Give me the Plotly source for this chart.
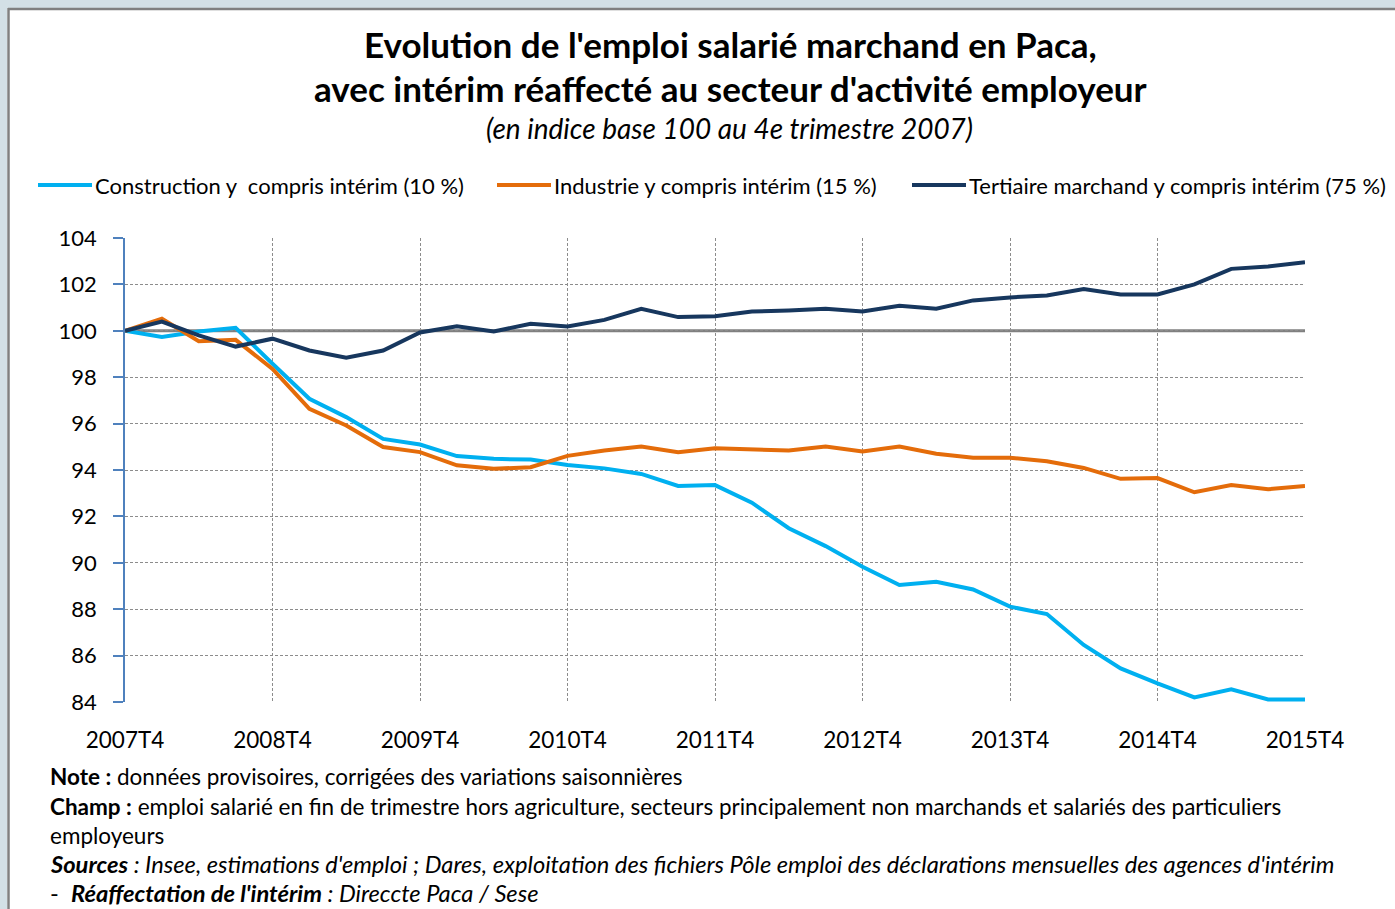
import plotly.graph_objects as go

quarters = [
    "2007T4", "2008T1", "2008T2", "2008T3", "2008T4", "2009T1", "2009T2", "2009T3",
    "2009T4", "2010T1", "2010T2", "2010T3", "2010T4", "2011T1", "2011T2", "2011T3",
    "2011T4", "2012T1", "2012T2", "2012T3", "2012T4", "2013T1", "2013T2", "2013T3",
    "2013T4", "2014T1", "2014T2", "2014T3", "2014T4", "2015T1", "2015T2", "2015T3",
    "2015T4",
]

construction = [
    100.0, 99.73, 99.97, 100.13, 98.58, 97.07, 96.28, 95.34,
    95.10, 94.60, 94.48, 94.45, 94.22, 94.07, 93.83, 93.31,
    93.35, 92.59, 91.49, 90.72, 89.83, 89.04, 89.18, 88.85,
    88.11, 87.79, 86.46, 85.45, 84.80, 84.20, 84.55, 84.11,
    84.11,
]
industrie = [
    100.0, 100.52, 99.55, 99.61, 98.36, 96.64, 95.92, 94.99,
    94.77, 94.20, 94.05, 94.12, 94.61, 94.84, 95.01, 94.77,
    94.94, 94.90, 94.84, 95.01, 94.80, 95.01, 94.70, 94.53,
    94.53, 94.38, 94.09, 93.62, 93.65, 93.04, 93.35, 93.17,
    93.31,
]
tertiaire = [
    100.0, 100.40, 99.80, 99.32, 99.66, 99.15, 98.84, 99.15,
    99.93, 100.19, 99.97, 100.30, 100.19, 100.47, 100.95, 100.59,
    100.63, 100.83, 100.88, 100.95, 100.83, 101.08, 100.95, 101.31,
    101.44, 101.52, 101.80, 101.57, 101.57, 102.00, 102.67, 102.77,
    102.96,
]

series_names = [
    "Construction y  compris intérim (10 %)",
    "Industrie y compris intérim (15 %)",
    "Tertiaire marchand y compris intérim (75 %)",
]
series_colors = ["#00b0f0", "#e46c0a", "#17375e"]
year_ticks = quarters[::4]

W, H = 1395, 909
L, R, T, B = 125, 1305, 238, 702
FONT = "Lato"


def px_x(p):
    return (p - L) / (R - L)


def px_y(p):
    return (B - p) / (B - T)


fig = go.Figure()
for name, vals, col in zip(series_names, [construction, industrie, tertiaire], series_colors):
    fig.add_trace(go.Scatter(x=quarters, y=vals, mode="lines", name=name,
                             line=dict(color=col, width=4)))

shapes = [
    # base 100 line
    dict(type="line", xref="paper", yref="y", x0=0, x1=1, y0=100, y1=100,
         line=dict(color="#808080", width=3), layer="below"),
    # window frame
    dict(type="rect", xref="paper", yref="paper", x0=px_x(0), x1=px_x(W),
         y0=px_y(8), y1=px_y(0), fillcolor="#d3e0e6", line=dict(width=0)),
    dict(type="rect", xref="paper", yref="paper", x0=px_x(0), x1=px_x(7),
         y0=px_y(H), y1=px_y(0), fillcolor="#d3e0e6", line=dict(width=0)),
    dict(type="line", xref="paper", yref="paper", x0=px_x(8), x1=px_x(W),
         y0=px_y(9), y1=px_y(9), line=dict(color="#808080", width=2.5)),
    dict(type="line", xref="paper", yref="paper", x0=px_x(8.5), x1=px_x(8.5),
         y0=px_y(H), y1=px_y(8), line=dict(color="#808080", width=2.5)),
]

annotations = [
    dict(text="<b>Evolution de l'emploi salarié marchand en Paca,</b>", x=px_x(730), y=px_y(44),
         font=dict(size=35, color="#000000")),
    dict(text="<b>avec intérim réaffecté au secteur d'activité employeur</b>", x=px_x(730), y=px_y(88),
         font=dict(size=35, color="#000000")),
    dict(text="<i>(en indice base 100 au 4e trimestre 2007)</i>", x=px_x(729), y=px_y(128),
         font=dict(size=28, color="#000000")),
]

legend_x = [38, 497, 912]
for lx, name, col in zip(legend_x, series_names, series_colors):
    shapes.append(dict(type="line", xref="paper", yref="paper", x0=px_x(lx), x1=px_x(lx + 54),
                       y0=px_y(185), y1=px_y(185), line=dict(color=col, width=4)))
    annotations.append(dict(text=name, x=px_x(lx + 55), y=px_y(185), xanchor="left",
                            font=dict(size=22, color="#000000")))

notes = [
    ("<b>Note :</b> données provisoires, corrigées des variations saisonnières", 776, 22.5),
    ("<b>Champ :</b> emploi salarié en fin de trimestre hors agriculture, secteurs principalement non marchands et salariés des particuliers", 806, 22.5),
    ("employeurs", 835, 22.5),
    ("<b><i>Sources</i></b><i> : Insee, estimations d'emploi ; Dares, exploitation des fichiers Pôle emploi des déclarations mensuelles des agences d'intérim</i>", 864, 23.7),
    ("-  <b><i>Réaffectation de l'intérim</i></b><i> : Direccte Paca / Sese</i>", 893, 23.7),
]
for txt, ny, fs in notes:
    annotations.append(dict(text=txt, x=px_x(48), y=px_y(ny), xanchor="left",
                            font=dict(size=fs, color="#000000")))

for a in annotations:
    a.update(xref="paper", yref="paper", showarrow=False)
    a.setdefault("xanchor", "center")
    a.setdefault("yanchor", "middle")

fig.update_layout(
    width=W, height=H,
    margin=dict(l=L, r=W - R, t=T, b=H - B, pad=0),
    paper_bgcolor="white", plot_bgcolor="white",
    showlegend=False,
    font=dict(family=FONT, color="#000000"),
    shapes=shapes,
    annotations=annotations,
)
fig.update_xaxes(
    type="category", range=[0, len(quarters) - 1],
    tickmode="array", tickvals=year_ticks, ticktext=year_ticks,
    showgrid=True, gridcolor="#8c8c8c", gridwidth=1, griddash="3px,2px",
    showline=False, zeroline=False, ticks="",
    tickfont=dict(size=22.5, color="#000000"), ticklabelstandoff=22,
)
fig.update_yaxes(
    range=[84, 104], dtick=2, tick0=84,
    showgrid=True, gridcolor="#8c8c8c", gridwidth=1, griddash="3px,2px",
    showline=True, linecolor="#4f81bd", linewidth=1.5, zeroline=False,
    ticks="outside", ticklen=10, tickcolor="#4f81bd", tickwidth=1.5,
    tickfont=dict(size=22, color="#000000"), ticklabelstandoff=12,
)

fig.write_html("out.html", config={"displayModeBar": False},
               post_script="document.body.style.margin='0';")
